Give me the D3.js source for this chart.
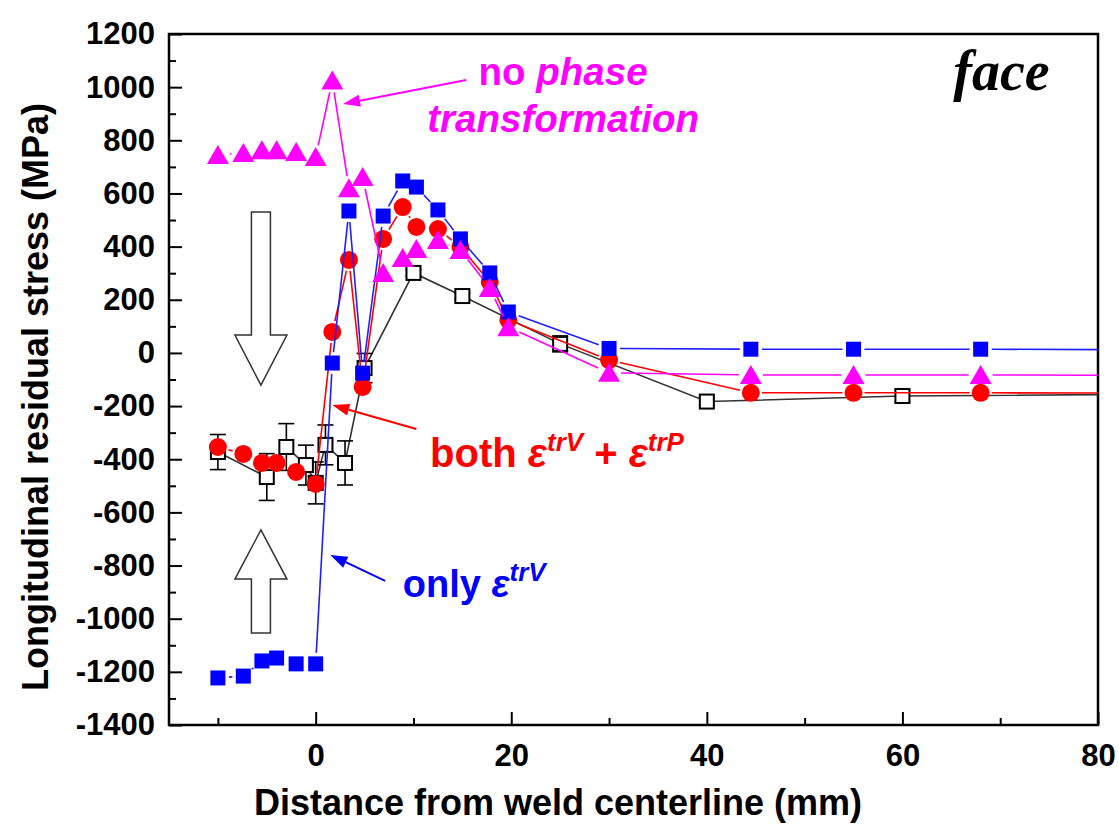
<!DOCTYPE html>
<html lang="en">
<head>
<meta charset="UTF-8">
<script src="https://d3js.org/d3.v7.min.js"></script>
<style>
  body { margin: 0; background: #fff; }
  svg text { font-family: "Liberation Sans", Arial, sans-serif; font-weight: bold; }
</style>
</head>
<body>
<div id="chart_area"></div>
<script>
// simulated series share the same x positions (mm)
var simX = [-10, -7.4, -5.5, -4, -2, 0, 1.7, 3.4, 4.8, 6.9, 8.9, 10.3, 12.5, 14.8, 17.8, 19.7, 30, 44.5, 55, 68, 100];
var noPhaseStress = [745, 752, 763, 763, 756, 737, 1025, 620, 662, 301, 357, 391, 425, 387, 244, 97, -75, -83, -83, -83, -85];
var onlyTrVStress = [-1223, -1216, -1159, -1148, -1170, -1170, -38, 534, -76, 515, 647, 624, 538, 429, 301, 154, 17, 14, 14, 14, 10];
var bothStress = [-354, -380, -414, -414, -448, -493, 79, 350, -128, 429, 549, 474, 466, 399, 267, 124, -27, -150, -150, -150, -152];

// measured values with error bars
var measX = [-10, -5, -3, -1, 0, 1, 3, 5, 10, 15, 25, 40, 60, 100];
var measStress = [-373, -467, -354, -422, -489, -346, -414, -57, 301, 214, 34, -183, -162, -152];
var measErr = [66, 88, 88, 75, 79, 75, 83, 55, 12, 12, 30, 15, 22, 0];

var xMajorTicks = [0, 20, 40, 60, 80];
var xMinorTicks = [-10, 10, 30, 50, 70];
var yMajorTicks = [-1400, -1200, -1000, -800, -600, -400, -200, 0, 200, 400, 600, 800, 1000, 1200];

var margin = { top: 34, right: 21, bottom: 100, left: 169 },
    width = 1119 - margin.left - margin.right,
    height = 825 - margin.top - margin.bottom;

var svg = d3.select("#chart_area").append("svg")
    .attr("width", 1119)
    .attr("height", 825)
  .append("g")
    .attr("transform", "translate(" + margin.left + "," + margin.top + ")");

var x = d3.scaleLinear().domain([-15, 80]).range([0, width]);
var y = d3.scaleLinear().domain([-1400, 1200]).range([height, 0]);

svg.append("clipPath").attr("id", "plotclip")
  .append("rect").attr("width", width).attr("height", height);

// axes, ticks pointing inward
var plain = function(d) { return String(d); };
var yMinor = d3.range(-1300, 1200, 200);
svg.append("g").attr("class", "axis")
    .call(d3.axisLeft(y).tickValues(yMajorTicks).tickSize(-13).tickPadding(14).tickFormat(plain));
svg.append("g").attr("class", "axis")
    .call(d3.axisLeft(y).tickValues(yMinor).tickSize(-7).tickFormat(""));
svg.append("g").attr("class", "axis")
    .attr("transform", "translate(0," + height + ")")
    .call(d3.axisBottom(x).tickValues(xMajorTicks).tickSize(-13).tickPadding(19).tickFormat(plain));
svg.append("g").attr("class", "axis")
    .attr("transform", "translate(0," + height + ")")
    .call(d3.axisBottom(x).tickValues(xMinorTicks).tickSize(-7).tickFormat(""));

svg.selectAll(".axis .domain").remove();
svg.selectAll(".axis line").attr("stroke", "#000").attr("stroke-width", 2);
svg.selectAll(".axis text").style("font-size", "31px").attr("fill", "#000");

svg.append("rect")
    .attr("width", width).attr("height", height)
    .attr("fill", "none").attr("stroke", "#000").attr("stroke-width", 2.5);

svg.append("text")
    .attr("transform", "translate(" + (48 - margin.left) + "," + (397 - margin.top) + ") rotate(-90)")
    .attr("text-anchor", "middle")
    .style("font-size", "36px")
    .text("Longitudinal residual stress (MPa)");

svg.append("text")
    .attr("x", 558 - margin.left)
    .attr("y", 815 - margin.top)
    .attr("text-anchor", "middle")
    .style("font-size", "36px")
    .text("Distance from weld centerline (mm)");

var plot = svg.append("g").attr("clip-path", "url(#plotclip)");

// Origin-style lines that stop short of the markers
function drawGapLine(xs, ys, color, gap) {
  var pts = xs.map(function(d, i) { return [x(d), y(ys[i])]; });
  var segs = [];
  for (var i = 0; i < pts.length - 1; i++) {
    var a = pts[i], b = pts[i + 1];
    var dx = b[0] - a[0], dy = b[1] - a[1];
    var len = Math.sqrt(dx * dx + dy * dy);
    if (len <= 2 * gap) continue;
    var ux = dx / len, uy = dy / len;
    segs.push([a[0] + ux * gap, a[1] + uy * gap, b[0] - ux * gap, b[1] - uy * gap]);
  }
  plot.append("g").selectAll("line").data(segs).enter().append("line")
      .attr("x1", function(d) { return d[0]; })
      .attr("y1", function(d) { return d[1]; })
      .attr("x2", function(d) { return d[2]; })
      .attr("y2", function(d) { return d[3]; })
      .attr("stroke", color).attr("stroke-width", 1.6);
}

// measured (black open squares with error bars)
var meas = measX.map(function(d, i) { return { x: d, y: measStress[i], e: measErr[i] }; });
plot.append("path")
    .datum(meas)
    .attr("fill", "none").attr("stroke", "#333").attr("stroke-width", 1.6)
    .attr("d", d3.line().x(function(d) { return x(d.x); }).y(function(d) { return y(d.y); }));

var eb = plot.append("g").selectAll("g").data(meas.filter(function(d) { return d.e > 0; })).enter().append("g")
    .attr("stroke", "#000").attr("stroke-width", 1.6);
eb.append("line")
    .attr("x1", function(d) { return x(d.x); }).attr("x2", function(d) { return x(d.x); })
    .attr("y1", function(d) { return y(d.y - d.e); }).attr("y2", function(d) { return y(d.y + d.e); });
eb.append("line")
    .attr("x1", function(d) { return x(d.x) - 8; }).attr("x2", function(d) { return x(d.x) + 8; })
    .attr("y1", function(d) { return y(d.y + d.e); }).attr("y2", function(d) { return y(d.y + d.e); });
eb.append("line")
    .attr("x1", function(d) { return x(d.x) - 8; }).attr("x2", function(d) { return x(d.x) + 8; })
    .attr("y1", function(d) { return y(d.y - d.e); }).attr("y2", function(d) { return y(d.y - d.e); });

plot.append("g").selectAll("rect").data(meas).enter().append("rect")
    .attr("x", function(d) { return x(d.x) - 7; })
    .attr("y", function(d) { return y(d.y) - 7; })
    .attr("width", 14).attr("height", 14)
    .attr("fill", "#fff").attr("stroke", "#000").attr("stroke-width", 2);

// both eps trV + trP (red circles)
drawGapLine(simX, bothStress, "#ff0000", 11);
plot.append("g").selectAll("circle").data(simX).enter().append("circle")
    .attr("cx", function(d) { return x(d); })
    .attr("cy", function(d, i) { return y(bothStress[i]); })
    .attr("r", 9)
    .attr("fill", "#ff0000");

// only eps trV (blue squares)
drawGapLine(simX, onlyTrVStress, "#2020ff", 11);
plot.append("g").selectAll("rect").data(simX).enter().append("rect")
    .attr("x", function(d) { return x(d) - 7.5; })
    .attr("y", function(d, i) { return y(onlyTrVStress[i]) - 7.5; })
    .attr("width", 15).attr("height", 15)
    .attr("fill", "#0000ff");

// no phase transformation (magenta triangles)
drawGapLine(simX, noPhaseStress, "#ff00ff", 12);
plot.append("g").selectAll("path").data(simX).enter().append("path")
    .attr("transform", function(d, i) { return "translate(" + x(d) + "," + y(noPhaseStress[i]) + ")"; })
    .attr("d", "M0,-10L11,9L-11,9Z")
    .attr("fill", "#ff00ff");

// big hollow arrows
function hollowArrow(cx, yTail, yBase, yTip) {
  var px = x(cx), t = y(yTail), b = y(yBase), p = y(yTip);
  var pts = [[px - 9.5, t], [px + 9.5, t], [px + 9.5, b], [px + 26, b], [px, p], [px - 26, b], [px - 9.5, b]];
  svg.append("path")
      .attr("d", "M" + pts.join("L") + "Z")
      .attr("fill", "#fff").attr("stroke", "#333").attr("stroke-width", 1.5);
}
hollowArrow(-5.6, 530, 67, -121);
hollowArrow(-5.6, -1054, -851, -666);

// annotation arrows
function pointer(x0, y0, x1, y1, color) {
  var a = [x(x0), y(y0)], b = [x(x1), y(y1)];
  var ang = Math.atan2(b[1] - a[1], b[0] - a[0]);
  var L = 17, W = 6;
  var base = [b[0] - L * Math.cos(ang), b[1] - L * Math.sin(ang)];
  svg.append("line")
      .attr("x1", a[0]).attr("y1", a[1]).attr("x2", base[0]).attr("y2", base[1])
      .attr("stroke", color).attr("stroke-width", 2);
  var p1 = [base[0] + W * Math.sin(ang), base[1] - W * Math.cos(ang)];
  var p2 = [base[0] - W * Math.sin(ang), base[1] + W * Math.cos(ang)];
  svg.append("path").attr("d", "M" + [b, p1, p2].join("L") + "Z").attr("fill", color);
}
pointer(15.4, 1027, 2.8, 937, "#ff00ff");
pointer(10.3, -286, 1.7, -196, "#ff0000");
pointer(7.1, -858, 1.5, -760, "#0000ff");

// labels
var t1 = svg.append("text").attr("x", x(25.3)).attr("y", y(1008))
    .attr("text-anchor", "middle").attr("fill", "#ff00ff").style("font-size", "38.5px");
t1.append("tspan").text("no ");
t1.append("tspan").style("font-style", "italic").text("phase");
svg.append("text").attr("x", x(25.3)).attr("y", y(831))
    .attr("text-anchor", "middle").attr("fill", "#ff00ff").style("font-size", "38.5px")
    .style("font-style", "italic").text("transformation");

svg.append("text").attr("x", x(65.2)).attr("y", y(989))
    .style("font-family", "'Liberation Serif', 'Times New Roman', serif")
    .style("font-style", "italic").style("font-size", "56px")
    .text("face");

var t2 = svg.append("text").attr("x", x(11.7)).attr("y", y(-429))
    .attr("fill", "#ff0000").style("font-size", "40px");
t2.append("tspan").text("both ");
t2.append("tspan").style("font-style", "italic").text("\u03b5");
t2.append("tspan").style("font-style", "italic").style("font-size", "26px").attr("dy", -16).text("trV");
t2.append("tspan").attr("dy", 16).text(" + ");
t2.append("tspan").style("font-style", "italic").text("\u03b5");
t2.append("tspan").style("font-style", "italic").style("font-size", "26px").attr("dy", -16).text("trP");

var t3 = svg.append("text").attr("x", x(8.9)).attr("y", y(-918))
    .attr("fill", "#0000ff").style("font-size", "38px");
t3.append("tspan").text("only ");
t3.append("tspan").style("font-style", "italic").text("\u03b5");
t3.append("tspan").style("font-style", "italic").style("font-size", "26px").attr("dy", -16).text("trV");
</script>
</body>
</html>
